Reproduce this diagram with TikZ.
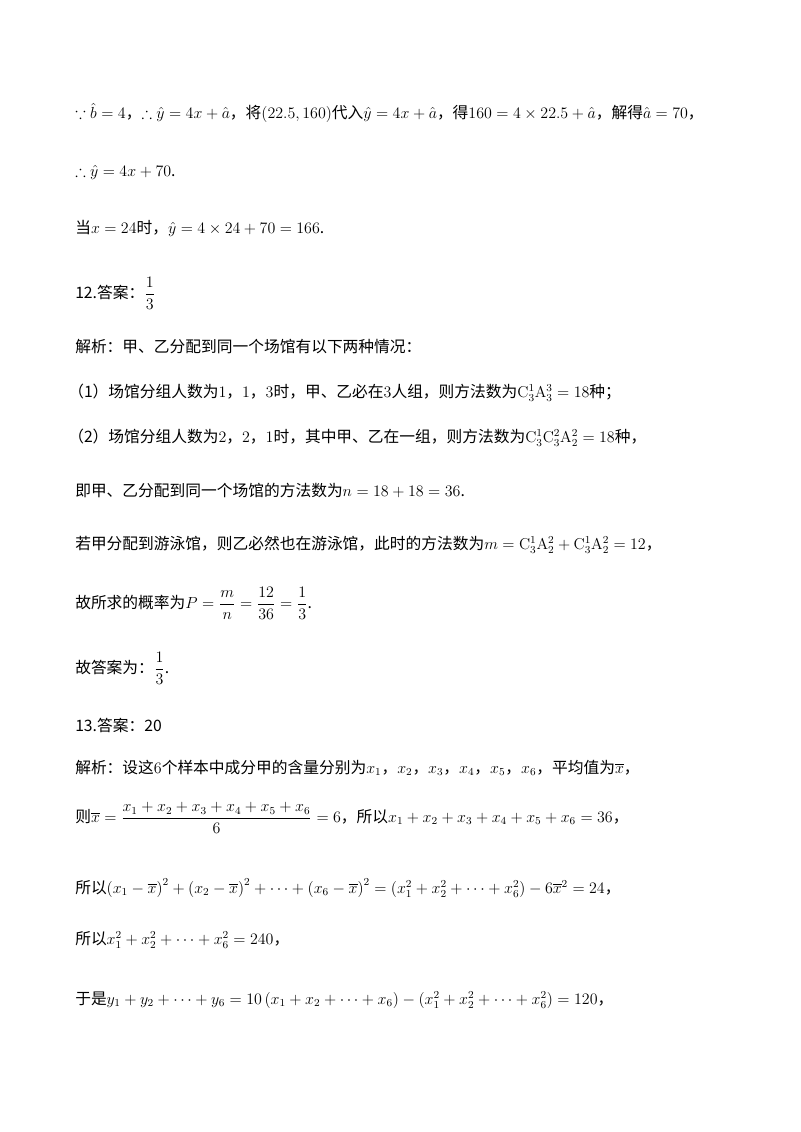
\documentclass[tikz,border=0pt]{standalone}
\usepackage{amsmath,amssymb}
\usepackage{fontspec}
\newfontfamily\cjk{Noto Sans CJK SC}
\begin{document}
\begin{tikzpicture}[x=0.75pt,y=-0.75pt,
 ln/.style={anchor=west,inner sep=0pt,font=\cjk\fontsize{11.8}{14}\selectfont}]
\useasboundingbox (0,0) rectangle (800,1132);
\node[ln] (l1) at (75,113) {$\because\hat b=4$，$\therefore\hat y=4x+\hat a$，将$(22.5,160)$代入$\hat y=4x+\hat a$，得$160=4\times22.5+\hat a$，解得$\hat a=70$，};
\node[ln] (l2) at (75,172) {$\therefore\hat y=4x+70$.};
\node[ln] (l3) at (75,228) {当$x=24$时，$\hat y=4\times24+70=166$.};
\node[ln] (l4) at (75,293) {12.答案：$\dfrac13$};
\node[ln] (l5) at (75,347) {解析：甲、乙分配到同一个场馆有以下两种情况：};
\node[ln] (l6) at (68,393) {（1）场馆分组人数为$1$，$1$，$3$时，甲、乙必在$3$人组，则方法数为$\mathrm{C}_3^1\mathrm{A}_3^3=18$种；};
\node[ln] (l7) at (68,438) {（2）场馆分组人数为$2$，$2$，$1$时，其中甲、乙在一组，则方法数为$\mathrm{C}_3^1\mathrm{C}_3^2\mathrm{A}_2^2=18$种，};
\node[ln] (l8) at (75,490) {即甲、乙分配到同一个场馆的方法数为$n=18+18=36$.};
\node[ln] (l9) at (75,545) {若甲分配到游泳馆，则乙必然也在游泳馆，此时的方法数为$m=\mathrm{C}_3^1\mathrm{A}_2^2+\mathrm{C}_3^1\mathrm{A}_2^2=12$，};
\node[ln] (l10) at (75,603) {故所求的概率为$P=\dfrac mn=\dfrac{12}{36}=\dfrac13$.};
\node[ln] (l11) at (75,668) {故答案为：$\dfrac13$.};
\node[ln] (l12) at (75,725) {13.答案：20};
\node[ln] (l13) at (75,768) {解析：设这$6$个样本中成分甲的含量分别为$x_1$，$x_2$，$x_3$，$x_4$，$x_5$，$x_6$，平均值为$\overline{x}$，};
\node[ln] (l14) at (75,818) {则$\overline{x}=\dfrac{x_1+x_2+x_3+x_4+x_5+x_6}{6}=6$，所以$x_1+x_2+x_3+x_4+x_5+x_6=36$，};
\node[ln] (l15) at (75,888) {所以$\left(x_1-\overline{x}\right)^2+\left(x_2-\overline{x}\right)^2+\cdots+\left(x_6-\overline{x}\right)^2=\left(x_1^2+x_2^2+\cdots+x_6^2\right)-6\overline{x}^2=24$，};
\node[ln] (l16) at (75,940) {所以$x_1^2+x_2^2+\cdots+x_6^2=240$，};
\node[ln] (l17) at (75,1000) {于是$y_1+y_2+\cdots+y_6=10\left(x_1+x_2+\cdots+x_6\right)-\left(x_1^2+x_2^2+\cdots+x_6^2\right)=120$，};
\end{tikzpicture}
\end{document}
